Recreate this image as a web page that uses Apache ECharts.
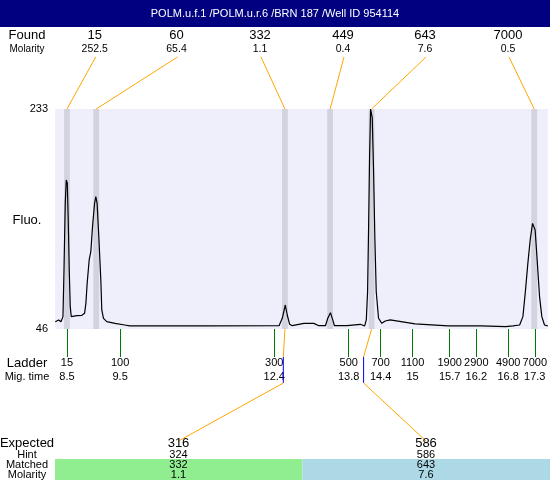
<!DOCTYPE html>
<html><head><meta charset="utf-8">
<script src="https://cdn.jsdelivr.net/npm/echarts@6/dist/echarts.min.js"></script>
<style>html,body{margin:0;padding:0;background:#fff;overflow:hidden}#c{width:550px;height:480px}</style>
</head><body><div id="c"></div>
<script>
// ---- data ----
const titleText = 'POLM.u.f.1 /POLM.u.r.6 /BRN 187 /Well ID 954114';
const foundSizes = [15, 60, 332, 449, 643, 7000];
const foundMolarity = ['252.5', '65.4', '1.1', '0.4', '7.6', '0.5'];
const foundTimes = [8.5, 9.05, 12.6, 13.45, 14.23, 17.29];
const ladderSizes = [15, 100, 300, 500, 700, 1100, 1900, 2900, 4900, 7000];
const ladderTimes = [8.5, 9.5, 12.4, 13.8, 14.4, 15, 15.7, 16.2, 16.8, 17.3];
const fluoTicks = [46, 233];
const expectedSizes = [316, 586];
const hintSizes = [324, 586];
const hintTimes = [12.57, 14.08];
const matchedSizes = [332, 643];
const matchedMolarity = ['1.1', '7.6'];
const matchedFoundIndex = [2, 4];
const traceTime = [8.28,8.345,8.388,8.425,8.444,8.468,8.487,8.506,8.524,8.543,8.562,8.581,8.607,8.687,8.781,8.831,8.856,8.88,8.918,8.949,8.981,9.019,9.043,9.067,9.099,9.137,9.155,9.187,9.249,9.404,9.586,9.68,11.12,11.14,11.16,12.49,12.55,12.607,12.644,12.689,12.738,12.957,13.144,13.238,13.363,13.406,13.457,13.5,13.532,13.768,14.019,14.1,14.131,14.155,14.174,14.193,14.212,14.243,14.268,14.292,14.318,14.361,14.423,14.487,14.58,15.049,15.672,16.29,16.753,16.89,17.015,17.077,17.12,17.17,17.214,17.258,17.283,17.307,17.345,17.39,17.433,17.483,17.545];
const traceFluo = [52.2,53.7,52.2,56.5,96.2,153.1,172.7,170.1,138.7,96.2,65,56.5,57.3,57.3,57.6,59.3,67.8,84.8,104.7,111.7,133,152.8,158.5,152.8,124.5,87.7,62.2,55.1,52.2,50.8,49.4,48.6,48.6,47.7,48.6,48.8,55.1,66.4,57.9,50,48.8,50.8,50.8,48.8,48.8,55.1,59.9,53.7,48.8,48.8,50,48.6,53.7,77.7,131.6,193.9,233,225.4,179.7,123.1,77.7,55.1,50.8,52.8,53.7,50.3,48.6,48.6,48,48.6,49.4,56.5,76.3,101.8,121.7,135.8,136.7,130.2,104.7,73.5,56.5,49.4,48.6];

// ---- chart ----
const FONT = '"Liberation Sans", Arial, sans-serif';
const trace = traceTime.map((t, i) => [t, traceFluo[i]]);
const chart = echarts.init(document.getElementById('c'), null, {renderer: 'canvas'});

function ladderLabel(v) {
  let best = 0;
  ladderTimes.forEach((t, i) => { if (Math.abs(t - v) < Math.abs(ladderTimes[best] - v)) best = i; });
  return '{a|' + ladderSizes[best] + '}\n{b|' + ladderTimes[best] + '}';
}

chart.setOption({
  animation: false,
  grid: {left: 55, top: 109, width: 495, height: 220, show: true, backgroundColor: '#efeffb', borderWidth: 0, containLabel: false},
  xAxis: {
    type: 'value', min: 8.275, max: 17.545,
    axisLine: {show: false}, splitLine: {show: false},
    axisTick: {show: true, customValues: ladderTimes, length: 28, lineStyle: {color: '#007800', width: 1}},
    axisLabel: {show: true, customValues: ladderTimes, margin: 27, hideOverlap: false, formatter: ladderLabel,
      rich: {a: {fontSize: 11, lineHeight: 14, fontFamily: FONT, color: '#000', align: 'center'},
             b: {fontSize: 11, lineHeight: 14, fontFamily: FONT, color: '#000', align: 'center'}}}
  },
  yAxis: {
    type: 'value', min: 46, max: 233,
    axisLine: {show: false}, axisTick: {show: false}, splitLine: {show: false},
    axisLabel: {customValues: fluoTicks, margin: 7, fontSize: 11, fontFamily: FONT, color: '#000'}
  },
  series: [{
    type: 'line', data: trace, symbol: 'none', silent: true,
    lineStyle: {color: '#000', width: 1.2},
    markArea: {silent: true, itemStyle: {color: '#d3d3e0'},
      data: foundTimes.map(t => [{xAxis: t - 0.055}, {xAxis: t + 0.055}])}
  }]
});

// ---- annotations ----
const px = (t, v) => chart.convertToPixel({gridIndex: 0}, [t, v]);
const foundLabelX = [94.7, 176.5, 260, 343, 425, 508];
const expectedX = [178.5, 426];
const g = [];
function txt(text, x, y, size, fill, extra) {
  g.push(Object.assign({type: 'text', z: 100, silent: true,
    style: {text: String(text), x: x, y: y, fill: fill || '#000', fontSize: size, fontFamily: FONT, align: 'center', verticalAlign: 'middle'}}, extra || {}));
}
function line(x1, y1, x2, y2, color) {
  g.push({type: 'line', z: 90, silent: true, shape: {x1, y1, x2, y2}, style: {stroke: color, lineWidth: 1}});
}
g.push({type: 'rect', z: 80, silent: true, shape: {x: 0, y: 0, width: 550, height: 27}, style: {fill: '#000080'}});
txt(titleText, 275, 14, 11, '#fff');
txt('Found', 27, 35, 13);
txt('Molarity', 27, 49, 10);
foundSizes.forEach((s, i) => {
  txt(s, foundLabelX[i], 35, 13);
  txt(foundMolarity[i], foundLabelX[i], 49, 10.5);
  const p = px(foundTimes[i], 233);
  line(foundLabelX[i] + 1, 57, p[0], 109, '#ffa500');
});
txt('Fluo.', 27, 220, 13);
txt('Ladder', 27, 363, 13);
txt('Mig. time', 27, 377, 11);
g.push({type: 'rect', z: 80, silent: true, shape: {x: 55, y: 459, width: 247.5, height: 21}, style: {fill: '#90ee90'}});
g.push({type: 'rect', z: 80, silent: true, shape: {x: 302.5, y: 459, width: 247.5, height: 21}, style: {fill: '#add8e6'}});
expectedSizes.forEach((s, j) => {
  const peak = px(foundTimes[matchedFoundIndex[j]], 46);
  const hint = px(hintTimes[j], 46);
  line(peak[0], 329, hint[0], 357, '#ffa500');
  line(hint[0], 357, hint[0], 383, '#0000ff');
  line(hint[0], 383, expectedX[j], 441, '#ffa500');
  txt(s, expectedX[j], 443, 13);
  txt(hintSizes[j], expectedX[j], 455, 11);
  txt(matchedSizes[j], expectedX[j], 465, 11);
  txt(matchedMolarity[j], expectedX[j], 475, 11);
});
txt('Expected', 27, 443, 13);
txt('Hint', 27, 455, 11);
txt('Matched', 27, 465, 11);
txt('Molarity', 27, 475, 11);
chart.setOption({graphic: g});
</script>
</body></html>
